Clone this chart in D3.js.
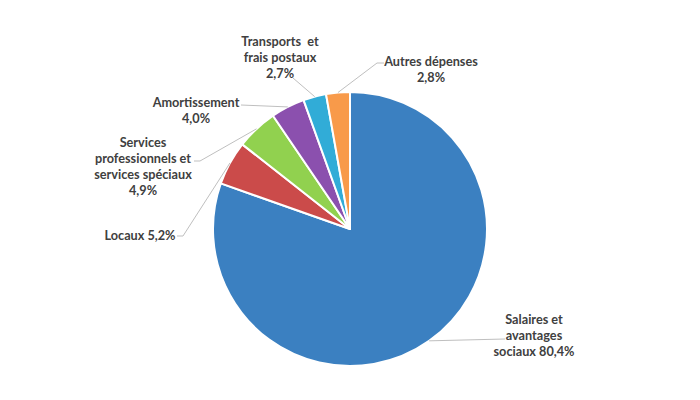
<!DOCTYPE html>
<html>
<head>
<meta charset="utf-8">
<script src="https://cdn.jsdelivr.net/npm/d3@7"></script>
<style>
  body { margin: 0; background: #fff; }
  text { font-family: Lato, "Open Sans", sans-serif; font-weight: bold; fill: #404040; }
</style>
</head>
<body>
<div class="canvas"></div>
<script>
const dims = {height: 400, width: 700};

// data
const categories = ['Salaires et avantages sociaux', 'Locaux', 'Services professionnels et services spéciaux',
  'Amortissement', 'Transports et frais postaux', 'Autres dépenses'];
const values = [80.4, 5.2, 4.9, 4.0, 2.7, 2.8];
const labelLines = [
  ['Salaires et', 'avantages', 'sociaux 80,4%'],
  ['Locaux 5,2%'],
  ['Services', 'professionnels et', 'services spéciaux', '4,9%'],
  ['Amortissement', '4,0%'],
  ['Transports  et', 'frais postaux', '2,7%'],
  ['Autres dépenses', '2,8%']
];

// styles / layout
const colors = ['#3b80c1', '#cb4b4a', '#91d14f', '#8b50ae', '#31acd7', '#f89a4a'];
// label block centre x, first baseline y, leader elbow and end
const labelLayout = [
  {x: 534, y: 324, elbow: [505, 339], end: [505, 339]},
  {x: 140, y: 240, elbow: [183, 236], end: [177, 236]},
  {x: 143, y: 147, elbow: [200, 161], end: [194, 161]},
  {x: 196, y: 107, elbow: [241, 105], end: [241, 105]},
  {x: 280, y: 46, elbow: [293, 78], end: [293, 78]},
  {x: 431, y: 66, elbow: [377, 63], end: [384, 63]}
];

const cx = 350, cy = 229, radius = 137;

const svg = d3.select('.canvas')
  .append('svg')
  .attr('width', dims.width)
  .attr('height', dims.height);

const graph = svg.append('g')
  .attr('transform', `translate(${cx}, ${cy})`);

const pie = d3.pie().sort(null).value(d => d);
const arc = d3.arc().innerRadius(0).outerRadius(radius);
const arcs = pie(values);

graph.selectAll('.slice')
  .data(arcs)
  .enter()
  .append('path')
  .attr('class', 'slice')
  .attr('d', arc)
  .attr('fill', (d, i) => colors[i])
  .attr('stroke', '#fff')
  .attr('stroke-width', 2)
  .attr('stroke-linejoin', 'round');

// leader lines from slice edge at mid angle
const edgePoint = d => {
  const a = (d.startAngle + d.endAngle) / 2;
  return [cx + radius * Math.sin(a), cy - radius * Math.cos(a)];
};

svg.selectAll('.leader')
  .data(arcs)
  .enter()
  .append('polyline')
  .attr('class', 'leader')
  .attr('fill', 'none')
  .attr('stroke', '#bfbfbf')
  .attr('stroke-width', 1)
  .attr('points', (d, i) => [edgePoint(d), labelLayout[i].elbow, labelLayout[i].end].map(p => p.join(',')).join(' '));

const labels = svg.selectAll('.label')
  .data(arcs)
  .enter()
  .append('text')
  .attr('class', 'label')
  .attr('text-anchor', 'middle')
  .attr('font-size', 12.7);

labels.selectAll('tspan')
  .data((d, i) => labelLines[i].map((t, j) => ({t, j, i})))
  .enter()
  .append('tspan')
  .attr('x', d => labelLayout[d.i].x)
  .attr('y', d => labelLayout[d.i].y + d.j * 16)
  .attr('xml:space', 'preserve')
  .style('white-space', 'pre')
  .text(d => d.t);
</script>
</body>
</html>
